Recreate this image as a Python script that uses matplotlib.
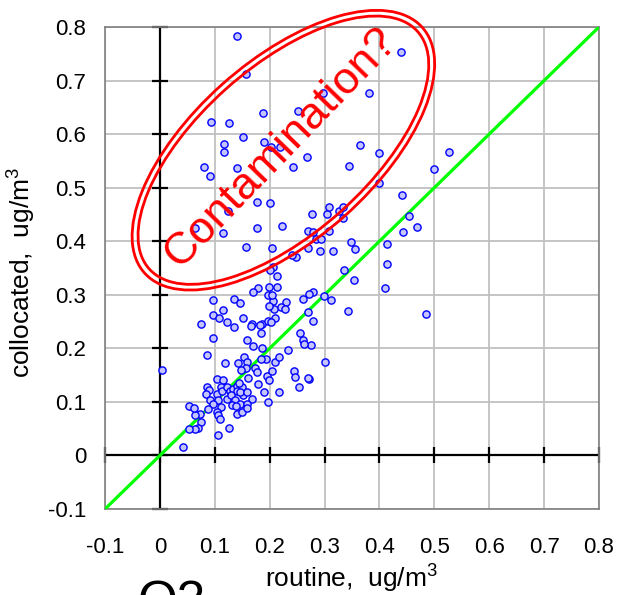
import matplotlib
matplotlib.use('Agg')
import matplotlib.pyplot as plt
from matplotlib.patches import Ellipse

plt.rcParams['font.family'] = ['Liberation Sans', 'DejaVu Sans']
plt.rcParams['mathtext.fontset'] = 'custom'
plt.rcParams['mathtext.rm'] = 'Liberation Sans'
plt.rcParams['mathtext.it'] = 'Liberation Sans:italic'

# ---- data ----
ticks = [-0.1, 0.0, 0.1, 0.2, 0.3, 0.4, 0.5, 0.6, 0.7, 0.8]
tick_labels = ['-0.1', '0', '0.1', '0.2', '0.3', '0.4', '0.5', '0.6', '0.7', '0.8']

routine = [
    0.140, 0.157, 0.093, 0.126, 0.188, 0.251, 0.151, 0.189, 0.202, 0.219,
    0.117, 0.117, 0.080, 0.091, 0.140, 0.242, 0.268, 0.177, 0.200, 0.124,
    0.064, 0.115, 0.177, 0.222, 0.270, 0.157, 0.204, 0.439, 0.381, 0.297,
    0.364, 0.399, 0.344, 0.499, 0.526, 0.399, 0.441, 0.454, 0.468, 0.443,
    0.413, 0.413, 0.410, 0.335, 0.353, 0.348, 0.355, 0.315, 0.291, 0.277,
    0.304, 0.308, 0.326, 0.333, 0.333, 0.279, 0.308, 0.284, 0.293, 0.270,
    0.279, 0.271, 0.299, 0.311, 0.260, 0.342, 0.485, 0.270, 0.279, 0.255,
    0.260, 0.275, 0.301, 0.271, 0.253, 0.248, 0.240, 0.206, 0.213, 0.213,
    0.230, 0.220, 0.228, 0.206, 0.208, 0.209, 0.200, 0.179, 0.169, 0.199,
    0.197, 0.135, 0.146, 0.097, 0.199, 0.097, 0.115, 0.107, 0.122, 0.075,
    0.151, 0.168, 0.186, 0.197, 0.204, 0.202, 0.135, 0.184, 0.158, 0.169,
    0.097, 0.086, 0.186, 0.193, 0.184, 0.209, 0.217, 0.233, 0.153, 0.158,
    0.142, 0.118, 0.157, 0.148, 0.173, 0.177, 0.160, 0.195, 0.199, 0.204,
    0.179, 0.189, 0.197, 0.217, 0.244, 0.246, 0.270, 0.004, 0.104, 0.115,
    0.086, 0.089, 0.084, 0.104, 0.111, 0.113, 0.122, 0.128, 0.133, 0.140,
    0.149, 0.144, 0.151, 0.140, 0.146, 0.091, 0.106, 0.122, 0.129, 0.137,
    0.158, 0.168, 0.146, 0.158, 0.131, 0.138, 0.111, 0.097, 0.087, 0.104,
    0.106, 0.109, 0.140, 0.149, 0.158, 0.126, 0.106, 0.073, 0.064, 0.053,
    0.062, 0.075, 0.069, 0.064, 0.053, 0.042, 0.166, 0.182, 0.262,
]
collocated = [
    0.784, 0.713, 0.623, 0.621, 0.640, 0.644, 0.595, 0.586, 0.576, 0.576,
    0.582, 0.567, 0.539, 0.522, 0.537, 0.539, 0.558, 0.474, 0.472, 0.457,
    0.424, 0.416, 0.424, 0.429, 0.420, 0.390, 0.388, 0.754, 0.677, 0.677,
    0.580, 0.565, 0.541, 0.534, 0.567, 0.509, 0.487, 0.448, 0.427, 0.418,
    0.394, 0.358, 0.313, 0.347, 0.328, 0.399, 0.386, 0.382, 0.381, 0.450,
    0.450, 0.463, 0.457, 0.463, 0.444, 0.418, 0.420, 0.405, 0.405, 0.388,
    0.306, 0.302, 0.297, 0.291, 0.293, 0.269, 0.265, 0.267, 0.252, 0.229,
    0.215, 0.207, 0.175, 0.142, 0.127, 0.371, 0.375, 0.351, 0.336, 0.315,
    0.287, 0.278, 0.274, 0.289, 0.274, 0.257, 0.347, 0.313, 0.306, 0.315,
    0.300, 0.293, 0.285, 0.291, 0.280, 0.263, 0.271, 0.256, 0.250, 0.246,
    0.256, 0.246, 0.246, 0.252, 0.299, 0.250, 0.239, 0.228, 0.215, 0.205,
    0.220, 0.188, 0.201, 0.181, 0.181, 0.174, 0.183, 0.196, 0.183, 0.174,
    0.172, 0.172, 0.164, 0.160, 0.164, 0.155, 0.144, 0.149, 0.140, 0.157,
    0.134, 0.118, 0.099, 0.118, 0.157, 0.147, 0.144, 0.159, 0.142, 0.140,
    0.127, 0.123, 0.114, 0.114, 0.127, 0.121, 0.127, 0.121, 0.125, 0.129,
    0.127, 0.136, 0.112, 0.121, 0.119, 0.104, 0.104, 0.106, 0.112, 0.103,
    0.118, 0.106, 0.097, 0.097, 0.095, 0.093, 0.091, 0.097, 0.086, 0.082,
    0.075, 0.069, 0.078, 0.082, 0.088, 0.052, 0.039, 0.078, 0.076, 0.093,
    0.088, 0.062, 0.052, 0.049, 0.049, 0.015, 0.241, 0.244, 0.209,
]

# ---- figure ----
fig = plt.figure(figsize=(6.17, 5.95), dpi=100)
ax = fig.add_axes([0.1702, 0.1445, 0.8006, 0.8101])
ax.set_xlim(ticks[0], ticks[-1])
ax.set_ylim(ticks[0], ticks[-1])
ax.set_xticks(ticks)
ax.set_xticklabels(tick_labels)
ax.set_yticks(ticks)
ax.set_yticklabels(tick_labels)
ax.tick_params(axis='both', length=0, labelsize=16)
ax.tick_params(axis='x', pad=20)
ax.tick_params(axis='y', pad=13.5)
ax.grid(True, color='#c0c0c0', lw=1.3, zorder=0)
ax.set_axisbelow(True)
for s in ax.spines.values():
    s.set_color('#808080')
    s.set_linewidth(1.2)

# zero axes with crossing ticks
ax.axhline(0, color='black', lw=1.6, zorder=2)
ax.axvline(0, color='black', lw=1.6, zorder=2)
ax.plot(ticks, [0] * len(ticks), ls='none', marker='|', ms=12, mew=1.6,
        color='black', zorder=2, clip_on=False)
ax.plot([0] * len(ticks), ticks, ls='none', marker='_', ms=12, mew=1.6,
        color='black', zorder=2, clip_on=False)

# 1:1 line
ax.plot([ticks[0], ticks[-1]], [ticks[0], ticks[-1]], color='#00ff00', lw=2.3, zorder=3)

# points
ax.plot(routine, collocated, ls='none', marker='o', ms=5.2, mfc='#c4c4ff',
        mec='#0000ff', mew=1.0, zorder=4)

# contamination ellipse (double red line)
for w, h in [(0.683, 0.332), (0.660, 0.310)]:
    ax.add_patch(Ellipse((0.225, 0.570), w, h, angle=42.5, fill=False,
                         ec='red', lw=2.0, clip_on=False, zorder=5))
ax.text(0.221, 0.575, 'Contamination?', rotation=46, rotation_mode='anchor',
        ha='center', va='center', color='red', fontsize=32.5, zorder=6)

# labels
fig.text(352 / 617, 1 - 588 / 595, 'routine,  ug/m$^3$', ha='center',
         va='baseline', fontsize=19)
fig.text(22 / 617, 1 - 272 / 595, 'collocated,  ug/m$^3$', rotation=90,
         ha='center', va='center', fontsize=19)
fig.text(138 / 617, 1 - 580 / 595, 'O3', ha='left', va='top', fontsize=37)

fig.savefig('out.png', dpi=100)
